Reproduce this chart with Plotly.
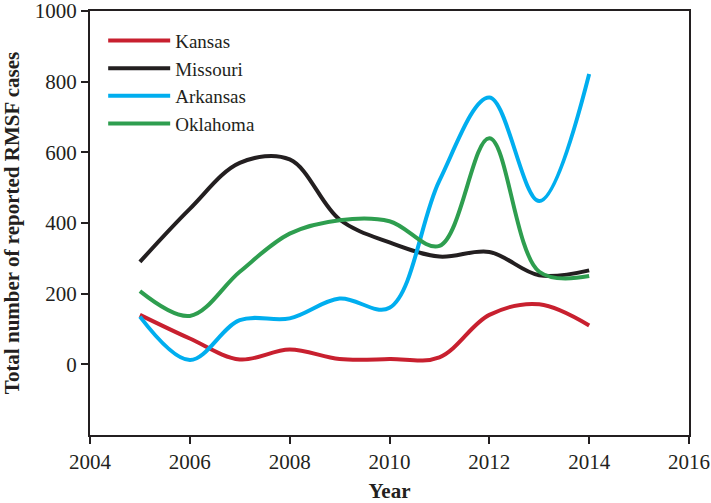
import plotly.graph_objects as go

years = [2005, 2006, 2007, 2008, 2009, 2010, 2011, 2012, 2013, 2014]
kansas = [140, 73, 14, 42, 15, 15, 20, 140, 170, 110]
missouri = [290, 440, 570, 580, 410, 345, 305, 318, 252, 266]
arkansas = [135, 12, 125, 130, 186, 160, 520, 755, 462, 822]
oklahoma = [207, 137, 262, 370, 408, 405, 335, 640, 262, 250]

series_names = ["Kansas", "Missouri", "Arkansas", "Oklahoma"]
series_values = [kansas, missouri, arkansas, oklahoma]
colors = ["#c8202f", "#231f20", "#00aeef", "#2e9e4f"]

x_ticks = [2004, 2006, 2008, 2010, 2012, 2014, 2016]
y_ticks = [0, 200, 400, 600, 800, 1000]

fig = go.Figure()
for name, vals, col in zip(series_names, series_values, colors):
    fig.add_trace(go.Scatter(
        x=years, y=vals, name=name, mode="lines",
        line=dict(color=col, width=4, shape="spline", smoothing=1.0),
    ))

font_family = "Liberation Serif, Times New Roman, serif"
fig.update_layout(
    width=711, height=503,
    margin=dict(l=90, r=22, t=11, b=68, autoexpand=False),
    paper_bgcolor="white", plot_bgcolor="white",
    font=dict(family=font_family, size=21, color="#231f20"),
    showlegend=True,
    legend=dict(x=0.022, y=0.975, xanchor="left", yanchor="top",
                bgcolor="rgba(0,0,0,0)", font=dict(size=19),
                tracegroupgap=0, itemwidth=62),
    xaxis=dict(
        range=[2004, 2016], tickvals=x_ticks, ticktext=[str(t) for t in x_ticks],
        showgrid=False, zeroline=False,
        showline=True, linecolor="#231f20", linewidth=2, mirror=True,
        ticks="outside", ticklen=7, tickwidth=2, tickcolor="#231f20",
        tickfont=dict(size=21, family=font_family), ticklabeloverflow="allow",
        title=dict(text="<b>Year</b>", font=dict(size=21, family=font_family), standoff=26),
    ),
    yaxis=dict(
        range=[-200, 1000], tickvals=y_ticks, ticktext=[str(t) for t in y_ticks],
        showgrid=False, zeroline=False,
        showline=True, linecolor="#231f20", linewidth=2, mirror=True,
        ticks="outside", ticklen=7, tickwidth=2, tickcolor="#231f20",
        tickfont=dict(size=21, family=font_family), ticklabeloverflow="allow",
        title=dict(text="<b>Total number of reported RMSF cases</b>",
                   font=dict(size=21, family=font_family), standoff=16),
    ),
)

fig.write_html("out.html", config={"displayModeBar": False},
               post_script="document.body.style.margin='0';")
